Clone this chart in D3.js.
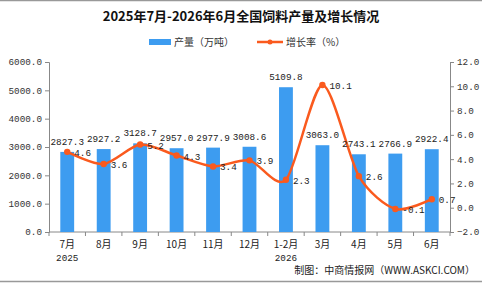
<!DOCTYPE html>
<html>
<head>
<meta charset="utf-8">
<script src="https://cdn.jsdelivr.net/npm/d3@7"></script>
<style>
  html, body { margin: 0; padding: 0; background: #fff; }
  svg { display: block; font-family: "Noto Sans CJK SC", "DejaVu Sans", sans-serif; }
</style>
</head>
<body>
<svg id="chart" width="482" height="284"></svg>
<script>
// ==== Data ====
const months = ['7月', '8月', '9月', '10月', '11月', '12月', '1-2月', '3月', '4月', '5月', '6月'];
const years  = ['2025', '', '', '', '', '', '2026', '', '', '', ''];
const output = [2827.3, 2927.2, 3128.7, 2957.0, 2977.9, 3008.6, 5109.8, 3063.0, 2743.1, 2766.9, 2922.4];
const growth = [4.6, 3.6, 5.2, 4.3, 3.4, 3.9, 2.3, 10.1, 2.6, -0.1, 0.7];
const leftTicks  = [0, 1000, 2000, 3000, 4000, 5000, 6000];
const rightTicks = [-2, 0, 2, 4, 6, 8, 10, 12];

const svg = d3.select('#chart');
const W = 482, H = 284;
const m = { left: 49, right: 32, top: 62, bottom: 52 };
const barColor = '#3d9cf0', lineColor = '#fa5a1e', axisColor = '#888';
const tickFont = 'Liberation Mono, DejaVu Sans Mono, monospace';
const numSize = '9.3px';

// frame lines
svg.append('line').attr('x1', 0).attr('x2', W).attr('y1', 0.5).attr('y2', 0.5)
  .attr('stroke', '#999').attr('stroke-width', 1.5);
svg.append('line').attr('x1', 0).attr('x2', W).attr('y1', H - 2.5).attr('y2', H - 2.5)
  .attr('stroke', '#999').attr('stroke-width', 1.5);

// title
svg.append('text').attr('x', W / 2).attr('y', 21).attr('text-anchor', 'middle')
  .style('font-size', '13px').style('font-weight', 'bold').attr('fill', '#111')
  .text('2025年7月-2026年6月全国饲料产量及增长情况');

// legend
const lg = svg.append('g').attr('transform', 'translate(149,42)');
lg.append('rect').attr('x', 0).attr('y', -3).attr('width', 22).attr('height', 6).attr('fill', barColor);
lg.append('text').attr('x', 25).attr('y', 4).style('font-size', '10px').attr('fill', '#333').text('产量（万吨）');
lg.append('line').attr('x1', 108).attr('x2', 134).attr('y1', 0).attr('y2', 0)
  .attr('stroke', lineColor).attr('stroke-width', 2.5);
lg.append('circle').attr('cx', 121).attr('cy', 0).attr('r', 2.5).attr('fill', lineColor);
lg.append('text').attr('x', 137).attr('y', 4).style('font-size', '10px').attr('fill', '#333').text('增长率（%）');

// scales
const x = d3.scaleBand().domain(months).range([m.left, W - m.right]).paddingInner(0.62).paddingOuter(0.31);
const yL = d3.scaleLinear().domain([0, 6000]).range([H - m.bottom, m.top]);
const yR = d3.scaleLinear().domain([-2, 12]).range([H - m.bottom, m.top]);
const step = x.step();

// axes
const gL = svg.append('g').attr('transform', `translate(${m.left},0)`)
  .call(d3.axisLeft(yL).tickValues(leftTicks).tickSize(4).tickFormat(d3.format('.1f')));
const gR = svg.append('g').attr('transform', `translate(${W - m.right},0)`)
  .call(d3.axisRight(yR).tickValues(rightTicks).tickSize(4).tickFormat(d3.format('.1f')));
[gL, gR].forEach(g => {
  g.selectAll('path, line').attr('stroke', axisColor);
  g.selectAll('text').attr('fill', '#333').style('font-size', numSize).style('font-family', tickFont);
});
gL.selectAll('text').attr('x', -7);

// x axis with boundary ticks
const gx = svg.append('g');
gx.append('line').attr('x1', m.left).attr('x2', W - m.right)
  .attr('y1', H - m.bottom).attr('y2', H - m.bottom).attr('stroke', axisColor);
d3.range(months.length + 1).forEach(i => {
  const xx = m.left + i * step;
  gx.append('line').attr('x1', xx).attr('x2', xx)
    .attr('y1', H - m.bottom).attr('y2', H - m.bottom + 4).attr('stroke', axisColor);
});
months.forEach((mo, i) => {
  const cx = x(mo) + x.bandwidth() / 2;
  gx.append('text').attr('x', cx).attr('y', H - m.bottom + 16).attr('text-anchor', 'middle')
    .style('font-size', '10px').attr('fill', '#222').text(mo);
  if (years[i]) {
    gx.append('text').attr('x', cx).attr('y', H - m.bottom + 29).attr('text-anchor', 'middle')
      .style('font-size', numSize).style('font-family', tickFont).attr('fill', '#222').text(years[i]);
  }
});

// bars
svg.append('g').selectAll('rect').data(output).join('rect')
  .attr('x', (d, i) => x(months[i]))
  .attr('y', d => yL(d))
  .attr('width', x.bandwidth())
  .attr('height', d => yL(0) - yL(d))
  .attr('fill', barColor);

// line
const cxOf = i => x(months[i]) + x.bandwidth() / 2;
svg.append('path').datum(growth)
  .attr('d', d3.line().x((d, i) => cxOf(i)).y(d => yR(d)).curve(d3.curveCardinal.tension(0.2)))
  .attr('fill', 'none').attr('stroke', lineColor).attr('stroke-width', 2.5);
svg.append('g').selectAll('circle').data(growth).join('circle')
  .attr('cx', (d, i) => cxOf(i)).attr('cy', d => yR(d)).attr('r', 3.2).attr('fill', lineColor);

// labels
svg.append('g').selectAll('text').data(output).join('text')
  .attr('x', (d, i) => cxOf(i)).attr('y', d => yL(d) - 7).attr('text-anchor', 'middle')
  .style('font-size', numSize).style('font-family', tickFont).attr('fill', '#222')
  .text(d => d.toFixed(1));
svg.append('g').selectAll('text').data(growth).join('text')
  .attr('x', (d, i) => cxOf(i) + 7).attr('y', d => yR(d) + 4)
  .style('font-size', numSize).style('font-family', tickFont).attr('fill', '#222')
  .text(d => d.toFixed(1));

// source
svg.append('text').attr('x', W - 7).attr('y', H - 10).attr('text-anchor', 'end')
  .style('font-size', '10px').attr('fill', '#222').text('制图：中商情报网（WWW.ASKCI.COM）');
</script>
</body>
</html>
